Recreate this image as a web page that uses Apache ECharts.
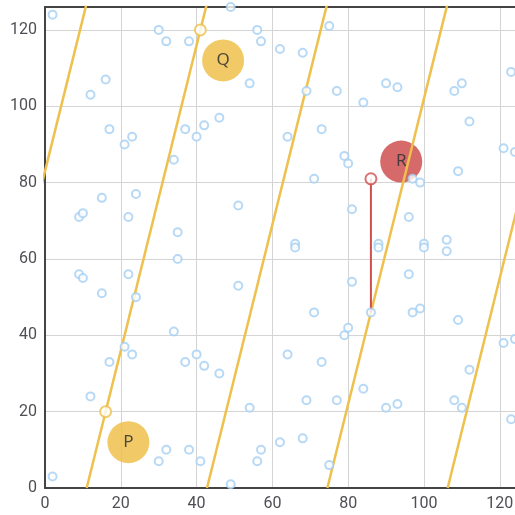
<!DOCTYPE html>
<html>
<head>
<meta charset="utf-8">
<script src="https://cdn.jsdelivr.net/npm/echarts@6/dist/echarts.min.js"></script>
<style>
  html, body { margin: 0; padding: 0; background: #fff; }
  #chart { width: 515px; height: 515px; }
</style>
</head>
<body>
<div id="chart"></div>
<script>
// lattice points (hollow blue)
const dots = [
  [2, 124], [30, 120], [32, 117], [38, 117], [49, 126], [56, 120], [57, 117], [54, 106],
  [16, 107], [12, 103], [17, 94], [23, 92], [21, 90], [37, 94], [42, 95], [40, 92],
  [46, 97], [34, 86], [15, 76], [24, 77], [9, 71], [10, 72], [22, 71], [51, 74],
  [35, 67], [35, 60], [9, 56], [10, 55], [22, 56], [15, 51], [24, 50], [51, 53],
  [34, 41], [21, 37], [23, 35], [17, 33], [37, 33], [40, 35], [42, 32], [46, 30],
  [12, 24], [54, 21], [32, 10], [38, 10], [30, 7], [41, 7], [49, 1], [2, 3],
  [57, 10], [56, 7], [75, 121], [62, 115], [68, 114], [69, 104], [77, 104], [90, 106],
  [93, 105], [84, 101], [108, 104], [110, 106], [123, 109], [112, 96], [64, 92], [73, 94],
  [79, 87], [80, 85], [71, 81], [121, 89], [124, 88], [109, 83], [97, 81], [99, 80],
  [81, 73], [96, 71], [66, 64], [66, 63], [88, 64], [88, 63], [100, 64], [100, 63],
  [106, 65], [106, 62], [96, 56], [81, 54], [71, 46], [86, 46], [97, 46], [99, 47],
  [109, 44], [80, 42], [79, 40], [64, 35], [73, 33], [121, 38], [124, 39], [112, 31],
  [84, 26], [69, 23], [77, 23], [90, 21], [93, 22], [108, 23], [110, 21], [123, 18],
  [62, 12], [68, 13], [75, 6]
]

// parallel yellow lines, endpoints
const slantLines = [
  [[-20.75, 0], [11.25, 128]],
  [[11, 0], [43, 128]],
  [[42.75, 0], [74.75, 128]],
  [[74.5, 0], [106.5, 128]],
  [[106.25, 0], [138.25, 128]]
]
const yellowRings = [[16, 20], [41, 120]]

const redSegment = [[86, 46], [86, 81]]
const redRing = [[86, 81]]

const bigYellow = [
  { name: 'P', value: [22, 12] },
  { name: 'Q', value: [47, 112] }
]
const bigRed = [{ name: 'R', value: [94, 85.5] }]

const xTicks = [0, 20, 40, 60, 80, 100, 120]
const yTicks = [0, 20, 40, 60, 80, 100, 120]

const YELLOW = '#eec04c'
const RED = '#cf4f4f'
const BLUE = '#a6cff2'

const chart = echarts.init(document.getElementById('chart'))

const tickLabel = (ticks) => ({
  color: '#4f4f55',
  fontSize: 16,
  fontFamily: 'Roboto',
  margin: 8,
  formatter: (v) => (ticks.includes(v) ? String(v) : '')
})

const series = []

series.push({
  type: 'scatter',
  data: bigYellow,
  symbolSize: 42,
  z: 1,
  itemStyle: { color: YELLOW, opacity: 0.85 },
  label: {
    show: true,
    position: 'inside',
    formatter: (p) => p.name,
    color: '#333',
    fontSize: 17,
    fontFamily: 'Noto Sans'
  }
})
series.push({
  type: 'scatter',
  data: bigRed,
  symbolSize: 42,
  z: 1,
  itemStyle: { color: RED, opacity: 0.85 },
  label: {
    show: true,
    position: 'inside',
    formatter: (p) => p.name,
    color: '#333',
    fontSize: 17,
    fontFamily: 'Noto Sans'
  }
})

slantLines.forEach((seg) => {
  series.push({
    type: 'line',
    data: seg,
    symbol: 'none',
    clip: true,
    z: 2,
    lineStyle: { color: YELLOW, width: 2.5 },
    silent: true
  })
})

series.push({
  type: 'line',
  data: redSegment,
  symbol: 'none',
  z: 3,
  lineStyle: { color: RED, width: 2 }
})

series.push({
  type: 'scatter',
  data: dots,
  symbol: 'circle',
  symbolSize: 8,
  z: 4,
  itemStyle: { color: '#fff', borderColor: BLUE, borderWidth: 2 }
})

series.push({
  type: 'scatter',
  data: yellowRings,
  symbol: 'circle',
  symbolSize: 11,
  z: 5,
  itemStyle: { color: '#fff', borderColor: YELLOW, borderWidth: 2 }
})
series.push({
  type: 'scatter',
  data: redRing,
  symbol: 'circle',
  symbolSize: 11,
  z: 5,
  itemStyle: { color: '#fff', borderColor: RED, borderWidth: 2 }
})

chart.setOption({
  animation: false,
  grid: { left: 45, top: 7, bottom: 27, right: -7.5, outerBoundsMode: 'none', containLabel: false },
  xAxis: [
    {
      type: 'value',
      min: 0,
      max: 126,
      interval: 20,
      axisLine: { show: true, lineStyle: { color: '#444', width: 2 } },
      axisTick: { show: false },
      axisLabel: tickLabel(xTicks),
      splitLine: { show: true, lineStyle: { color: '#d4d4d4' } }
    },
    {
      type: 'value',
      position: 'top',
      min: 0,
      max: 126,
      axisLine: { show: true, lineStyle: { color: '#444', width: 2 } },
      axisTick: { show: false },
      axisLabel: { show: false },
      splitLine: { show: false }
    }
  ],
  yAxis: {
    type: 'value',
    min: 0,
    max: 126,
    interval: 20,
    axisLine: { show: true, lineStyle: { color: '#444', width: 2 } },
    axisTick: { show: false },
    axisLabel: tickLabel(yTicks),
    splitLine: { show: true, lineStyle: { color: '#d4d4d4' } }
  },
  series: series
})
</script>
</body>
</html>
